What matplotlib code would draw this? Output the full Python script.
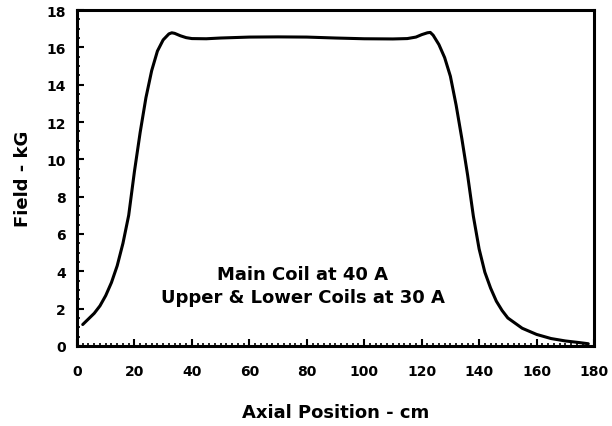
import matplotlib
matplotlib.use("Agg")
import matplotlib.pyplot as plt
from matplotlib.ticker import MultipleLocator

position_cm = [2, 4, 6, 8, 10, 12, 14, 16, 18, 20, 22, 24, 26, 28, 30, 32, 33, 34, 36, 38, 40,
               45, 50, 60, 70, 80, 90, 100, 110, 115, 118, 120, 122, 123, 124, 126, 128, 130,
               132, 134, 136, 138, 140, 142, 144, 146, 148, 150, 155, 160, 165, 170, 175, 178]
field_kG = [1.15, 1.45, 1.75, 2.15, 2.7, 3.4, 4.3, 5.5, 7.0, 9.35, 11.45, 13.3, 14.75, 15.8, 16.4,
            16.72, 16.78, 16.75, 16.62, 16.52, 16.47, 16.46, 16.5, 16.55, 16.56, 16.55, 16.5,
            16.46, 16.45, 16.47, 16.55, 16.68, 16.78, 16.8, 16.65, 16.15, 15.45, 14.45, 12.9,
            11.1, 9.15, 6.95, 5.2, 3.95, 3.1, 2.4, 1.9, 1.5, 0.95, 0.62, 0.4, 0.27, 0.18, 0.12]
x_ticks = [0, 20, 40, 60, 80, 100, 120, 140, 160, 180]
y_ticks = [0, 2, 4, 6, 8, 10, 12, 14, 16, 18]
annotation = ["Main Coil at 40 A", "Upper & Lower Coils at 30 A"]

plt.rcParams['font.family'] = ['DejaVu Sans']

fig = plt.figure(figsize=(6.12, 4.27), dpi=100)
ax = fig.add_axes([0.1258, 0.1874, 0.8448, 0.7868])
ax.plot(position_cm, field_kG, color='black', lw=2.2, solid_capstyle='round',
        solid_joinstyle='round')

ax.set_xlim(0, 180)
ax.set_ylim(0, 18)
ax.set_xticks(x_ticks)
ax.set_yticks(y_ticks)
ax.xaxis.set_minor_locator(MultipleLocator(2))
ax.yaxis.set_minor_locator(MultipleLocator(0.5))
ax.tick_params(which='major', direction='in', length=5, width=1.5, labelsize=10,
               top=False, right=False)
ax.tick_params(axis='x', which='major', pad=13)
ax.tick_params(axis='y', which='major', pad=8)
ax.tick_params(which='minor', direction='in', length=2.5, width=1.2,
               top=False, right=False)
for lab in ax.get_xticklabels() + ax.get_yticklabels():
    lab.set_fontweight('bold')
for s in ax.spines.values():
    s.set_linewidth(2.2)

ax.set_xlabel("Axial Position - cm", fontsize=13, fontweight='bold', labelpad=18)
ax.set_ylabel("Field - kG", fontsize=13, fontweight='bold', labelpad=10)

ax.text(78.5, 3.86, annotation[0], ha='center', va='center', fontsize=13, fontweight='bold')
ax.text(78.5, 2.62, annotation[1], ha='center', va='center', fontsize=13, fontweight='bold')

fig.savefig("out.png", dpi=100)
